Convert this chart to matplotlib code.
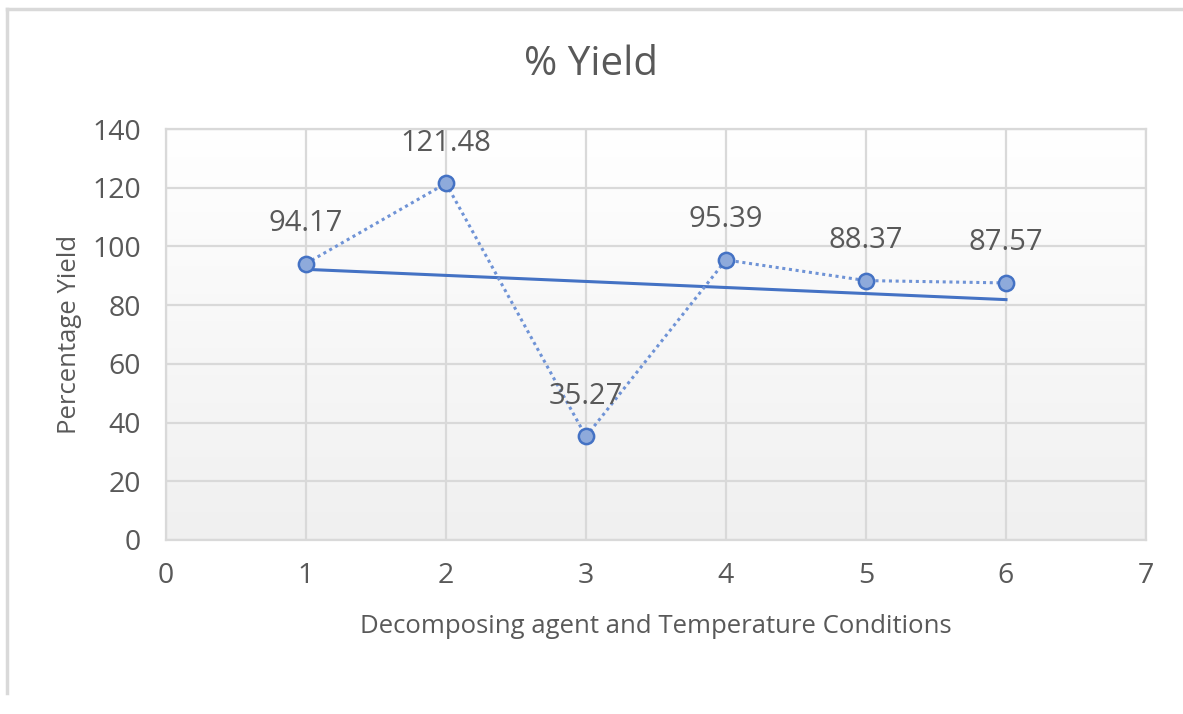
import numpy as np
import matplotlib.pyplot as plt
from matplotlib.lines import Line2D

plt.rcParams['font.family'] = ['Open Sans', 'DejaVu Sans']

# data
conditions = [1, 2, 3, 4, 5, 6]
yields = [94.17, 121.48, 35.27, 95.39, 88.37, 87.57]
labels = ['94.17', '121.48', '35.27', '95.39', '88.37', '87.57']

txt = '#595959'
grid = '#d9d9d9'
blue = '#4472c4'

fig = plt.figure(figsize=(11.83, 7.14), dpi=100)
ax = fig.add_axes([0.1403, 0.2437, 0.8284, 0.5756])

# gradient fill of the plot area
grad = np.linspace(0, 1, 256).reshape(-1, 1)
ax.imshow(grad, extent=[0, 1, 0, 1], transform=ax.transAxes, aspect='auto',
          cmap=plt.matplotlib.colors.LinearSegmentedColormap.from_list('g', ['#f0f0f0', '#ffffff']),
          origin='lower', zorder=0)

ax.plot(conditions, yields, linestyle=(0, (1, 1.2)), color='#6f93d6', lw=2.2,
        marker='o', ms=11, mfc='#8eaadb', mec=blue, mew=1.8, zorder=4)

# linear trendline
k, b = np.polyfit(conditions, yields, 1)
xs = np.array([conditions[0], conditions[-1]])
ax.plot(xs, k * xs + b, color=blue, lw=2.2, zorder=3)

for x, y, s in zip(conditions, yields, labels):
    ax.annotate(s, (x, y), xytext=(0, 29), textcoords='offset points',
                ha='center', va='center', fontsize=21, color=txt, zorder=5)

ax.set_xlim(0, 7)
ax.set_ylim(0, 140)
ax.set_xticks(range(0, 8))
ax.set_yticks(range(0, 141, 20))
ax.grid(True, color=grid, lw=1.6)
ax.set_axisbelow(True)
for sp in ax.spines.values():
    sp.set_color(grid)
    sp.set_linewidth(1.6)
ax.tick_params(length=0, labelsize=20.5, colors=txt)
ax.tick_params(axis='x', pad=16)
ax.tick_params(axis='y', pad=18)

ax.set_xlabel('Decomposing agent and Temperature Conditions', fontsize=18.5, color=txt, labelpad=17)
ax.set_ylabel('Percentage Yield', fontsize=18.5, color=txt, labelpad=7.5)
fig.text(0.5, 0.91, '% Yield', ha='center', va='center', fontsize=29, color=txt)

# outer chart border (top and left edges visible)
fig.add_artist(Line2D([0.0055, 1.0], [0.988, 0.988], color=grid, lw=2.5, transform=fig.transFigure))
fig.add_artist(Line2D([0.0055, 0.0055], [0.03, 0.988], color=grid, lw=2.5, transform=fig.transFigure))

fig.savefig('out.png', dpi=100)
